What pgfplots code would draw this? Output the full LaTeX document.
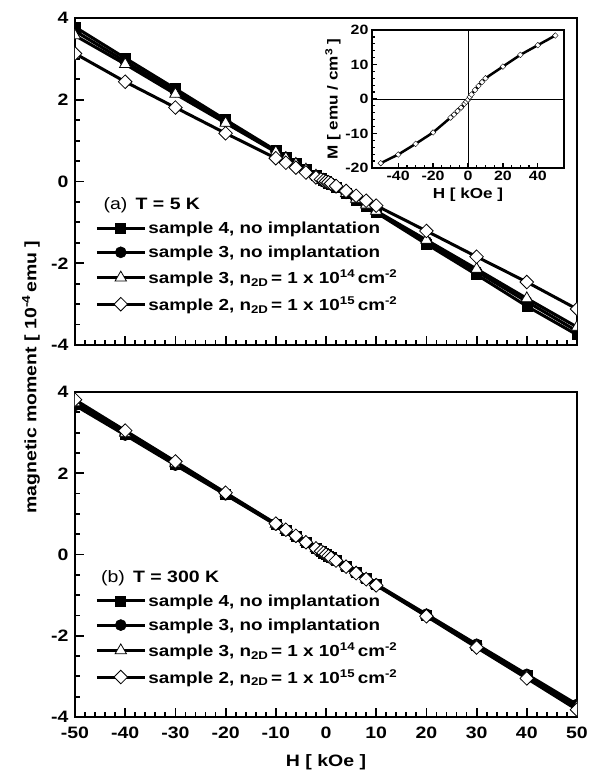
\documentclass[border=0pt]{standalone}
\usepackage{fontspec}
\setmainfont{Liberation Sans}[FakeStretch=1.18]
\usepackage{pgfplots}
\pgfplotsset{compat=1.18}
\begin{document}
\begin{tikzpicture}
\useasboundingbox (0pt,0pt) rectangle (593pt,772pt);
\pgfplotsset{
  mainax/.style={
    scale only axis, width=502pt,
    xmin=-50, xmax=50, ymin=-4, ymax=4,
    xtick={-50,-40,...,50}, ytick={-4,-2,0,2,4},
    minor x tick num=4, minor y tick num=3,
    tick align=inside, xtick pos=bottom, ytick pos=left,
    major tick length=9pt, minor tick length=5pt,
    every tick/.style={black, line width=1.8pt},
    axis line style={line width=2.2pt},
    /pgf/number format/assume math mode=true,
    ticklabel style={font=\bfseries\fontsize{16.5}{18}\selectfont},
    xticklabel style={yshift=-6pt},
    yticklabel style={xshift=-3pt},
    clip marker paths=true,
    legend cell align=left,
    legend style={at={(0.04,0.39)}, anchor=north west, draw=none, fill=none,
      font=\bfseries\fontsize{16}{18}\selectfont, row sep=7pt, inner xsep=0pt},
    legend image code/.code={
      \draw[mark repeat=2,mark phase=2,##1] plot coordinates {(0pt,0pt) (24pt,0pt) (48pt,0pt)};
    },
  },
  sfour/.style={black, line width=3pt, mark=square*, mark size=5pt, mark options={solid, fill=black, line width=0.6pt}},
  sthree/.style={black, line width=3pt, mark=*, mark size=5.5pt, mark options={solid, fill=black, line width=0.6pt}},
  sthreei/.style={black, line width=3pt, mark=triangle*, mark size=6.5pt, mark options={solid, fill=white, line width=0.8pt}},
  stwo/.style={black, line width=3pt, mark=square*, mark size=4.8pt, mark options={solid, fill=white, rotate=45, line width=0.8pt}},
}
% ---------- panel (a) ----------
\begin{axis}[mainax, at={(75pt,427pt)}, anchor=south west, height=327pt, xticklabels={}]
\addplot[sfour] coordinates {(-50,3.78) (-40,3.02) (-30,2.27) (-20,1.51) (-10,0.76) (-8,0.60) (-6,0.45) (-4,0.30) (-2,0.15) (-1,0.08) (-0.5,0.04) (0,0) (0.5,-0.04) (1,-0.08) (2,-0.15) (4,-0.30) (6,-0.45) (8,-0.60) (10,-0.76) (20,-1.53) (30,-2.28) (40,-3.05) (50,-3.75)};
\addlegendentry{sample 4, no implantation}
\addplot[sthree] coordinates {(-50,3.68) (-40,2.94) (-30,2.20) (-20,1.47) (-10,0.74) (-8,0.59) (-6,0.44) (-4,0.29) (-2,0.15) (-1,0.07) (-0.5,0.04) (0,0) (0.5,-0.04) (1,-0.07) (2,-0.15) (4,-0.29) (6,-0.44) (8,-0.59) (10,-0.74) (20,-1.47) (30,-2.20) (40,-2.94) (50,-3.66)};
\addlegendentry{sample 3, no implantation}
\addplot[sthreei] coordinates {(-50,3.57) (-40,2.87) (-30,2.14) (-20,1.43) (-10,0.72) (-8,0.57) (-6,0.43) (-4,0.29) (-2,0.14) (-1,0.07) (-0.5,0.04) (0,0) (0.5,-0.04) (1,-0.07) (2,-0.14) (4,-0.29) (6,-0.43) (8,-0.57) (10,-0.72) (20,-1.43) (30,-2.14) (40,-2.86) (50,-3.56)};
\addlegendentry{sample 3, n\textsubscript{2D}\,= 1 x 10\textsuperscript{14}\,cm\textsuperscript{-2}}
\addplot[stwo] coordinates {(-50,3.13) (-40,2.44) (-30,1.81) (-20,1.18) (-10,0.57) (-8,0.46) (-6,0.34) (-4,0.22) (-2,0.10) (-1,0.05) (-0.5,0.02) (0,0) (0.5,-0.02) (1,-0.05) (2,-0.11) (4,-0.23) (6,-0.35) (8,-0.47) (10,-0.59) (20,-1.21) (30,-1.84) (40,-2.46) (50,-3.12)};
\addlegendentry{sample 2, n\textsubscript{2D}\,= 1 x 10\textsuperscript{15}\,cm\textsuperscript{-2}}
\node[anchor=west, font=\fontsize{16.5}{18}\selectfont] at (axis cs:-45,-0.57) {(a)\enspace\textbf{T = 5 K}};
\end{axis}
% ---------- inset ----------
\begin{axis}[at={(372pt,604pt)}, anchor=south west, scale only axis, width=192pt, height=138pt,
  xmin=-55, xmax=55, ymin=-20, ymax=20,
  xtick={-40,-20,0,20,40}, ytick={-20,-10,0,10,20},
  minor x tick num=3, minor y tick num=4,
  tick align=inside, xtick pos=bottom, ytick pos=left,
  major tick length=5pt, minor tick length=3pt,
  every tick/.style={black, line width=1.2pt},
  axis line style={line width=1.5pt},
  axis background/.style={fill=white},
  /pgf/number format/assume math mode=true,
  ticklabel style={font=\bfseries\fontsize{13.5}{15}\selectfont},
  xlabel={H [ kOe ]}, ylabel={M [ emu / cm\textsuperscript{3} ]},
  label style={font=\bfseries\fontsize{14.5}{16}\selectfont},
  xlabel style={yshift=0pt}, ylabel style={yshift=-2pt},
  ]
\draw[line width=0.9pt] (axis cs:0,-20) -- (axis cs:0,20);
\draw[line width=0.9pt] (axis cs:-55,0) -- (axis cs:55,0);
\addplot[black, line width=2.5pt, mark=square*, mark size=2pt, mark options={solid, fill=white, rotate=45, line width=0.4pt}] coordinates {(-50,-18.6) (-40,-16.1) (-30,-13.0) (-20,-9.7) (-10,-5.4) (-8,-4.5) (-6,-3.5) (-4,-2.5) (-2,-1.4) (-1,-0.8) (0,-0.2) (1,0.6) (2,1.3) (4,2.6) (6,3.8) (8,4.9) (10,6.0) (20,9.4) (30,12.8) (40,15.6) (50,18.4)};
\end{axis}
% ---------- panel (b) ----------
\begin{axis}[mainax, at={(75pt,55pt)}, anchor=south west, height=325pt,
  xlabel={H [ kOe ]}, xlabel style={font=\bfseries\fontsize{16.5}{18}\selectfont, yshift=-9pt}]
\addplot[sfour] coordinates {(-50,3.70) (-40,2.96) (-30,2.22) (-20,1.48) (-10,0.74) (-8,0.59) (-6,0.45) (-4,0.30) (-2,0.15) (-1,0.07) (-0.5,0.04) (0,0) (0.5,-0.04) (1,-0.07) (2,-0.15) (4,-0.30) (6,-0.45) (8,-0.59) (10,-0.74) (20,-1.49) (30,-2.23) (40,-2.97) (50,-3.72)};
\addlegendentry{sample 4, no implantation}
\addplot[sthree] coordinates {(-50,3.67) (-40,2.94) (-30,2.20) (-20,1.47) (-10,0.73) (-8,0.59) (-6,0.44) (-4,0.29) (-2,0.15) (-1,0.07) (-0.5,0.04) (0,0) (0.5,-0.04) (1,-0.07) (2,-0.15) (4,-0.29) (6,-0.44) (8,-0.59) (10,-0.73) (20,-1.47) (30,-2.21) (40,-2.95) (50,-3.69)};
\addlegendentry{sample 3, no implantation}
\addplot[sthreei] coordinates {(-50,3.74) (-40,2.99) (-30,2.24) (-20,1.50) (-10,0.75) (-8,0.60) (-6,0.45) (-4,0.30) (-2,0.15) (-1,0.07) (-0.5,0.04) (0,0) (0.5,-0.04) (1,-0.07) (2,-0.15) (4,-0.30) (6,-0.45) (8,-0.60) (10,-0.75) (20,-1.50) (30,-2.25) (40,-3.00) (50,-3.75)};
\addlegendentry{sample 3, n\textsubscript{2D}\,= 1 x 10\textsuperscript{14}\,cm\textsuperscript{-2}}
\addplot[stwo] coordinates {(-50,3.81) (-40,3.05) (-30,2.29) (-20,1.52) (-10,0.76) (-8,0.61) (-6,0.46) (-4,0.30) (-2,0.15) (-1,0.08) (-0.5,0.04) (0,0) (0.5,-0.04) (1,-0.08) (2,-0.15) (4,-0.30) (6,-0.46) (8,-0.61) (10,-0.76) (20,-1.52) (30,-2.29) (40,-3.05) (50,-3.82)};
\addlegendentry{sample 2, n\textsubscript{2D}\,= 1 x 10\textsuperscript{15}\,cm\textsuperscript{-2}}
\node[anchor=west, font=\fontsize{16.5}{18}\selectfont] at (axis cs:-45.5,-0.58) {(b)\enspace\textbf{T = 300 K}};
\end{axis}
\node[rotate=90, font=\bfseries\fontsize{16.5}{19}\selectfont] at (31pt,395pt) {magnetic moment [ 10\textsuperscript{-4}\,emu ]};
\end{tikzpicture}
\end{document}
